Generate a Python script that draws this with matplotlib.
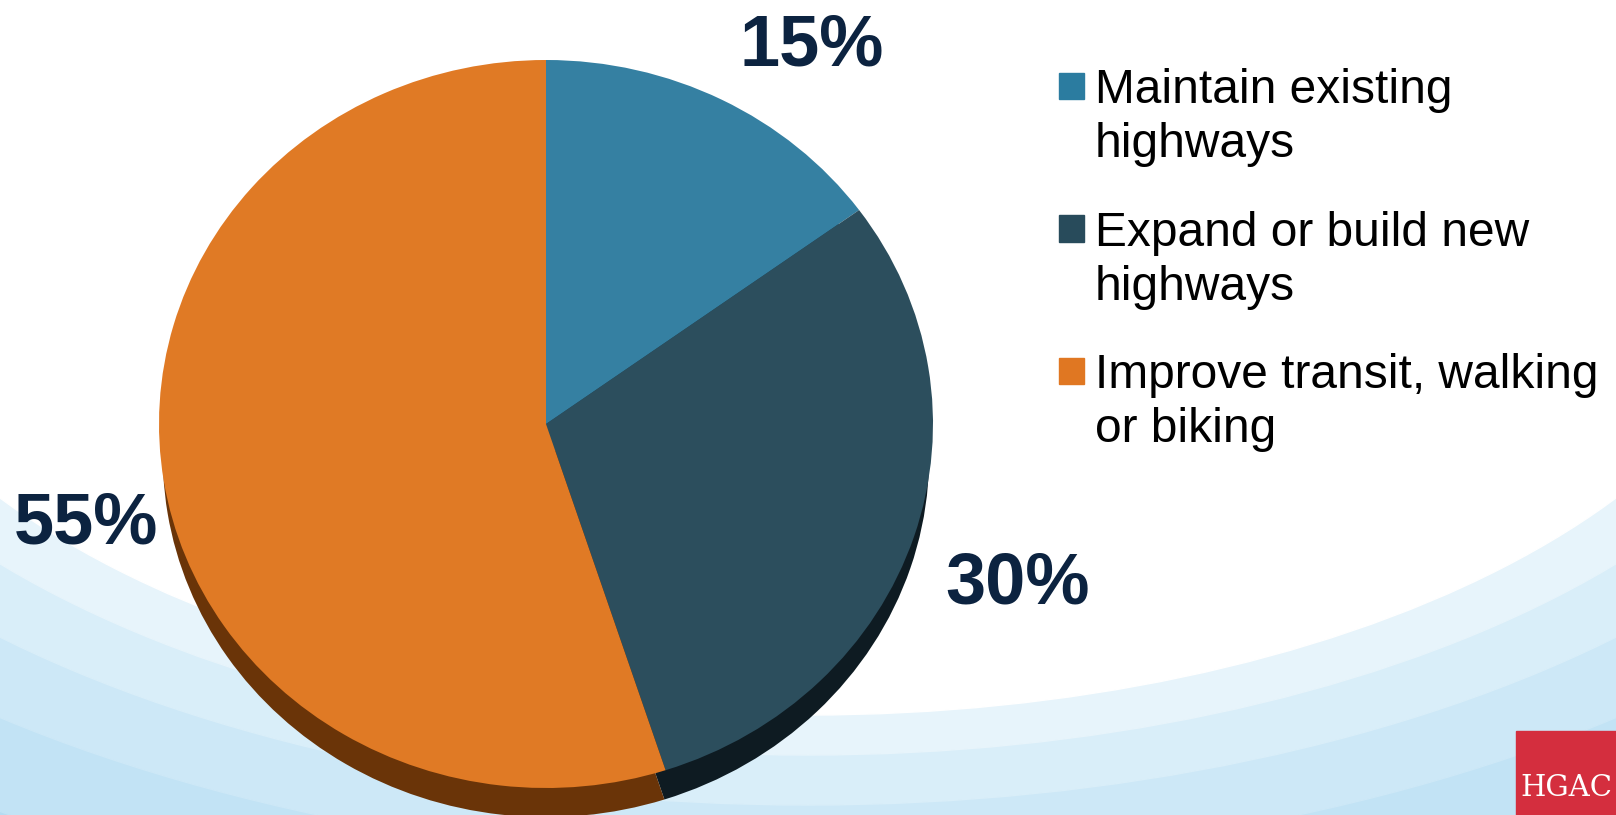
import matplotlib.pyplot as plt
from matplotlib.patches import Ellipse, Rectangle

# chart data
categories = ["Maintain existing\nhighways",
              "Expand or build new\nhighways",
              "Improve transit, walking\nor biking"]
shares = [15, 30, 55]
top_colors = ["#3580a2", "#2c4e5d", "#e07a25"]
rim_colors = ["#1d4a5e", "#0e1b22", "#6a3408"]
legend_colors = ["#2b7ca0", "#284b5b", "#e07722"]

W, H = 1616, 815


def fx(px):
    return px / W


def fy(py):
    return 1 - py / H


def main():
    plt.rcParams['font.family'] = ['Liberation Sans', 'DejaVu Sans']
    fig = plt.figure(figsize=(W / 100, H / 100), dpi=100)
    fig.patch.set_facecolor("white")

    # background swooshes
    bg = fig.add_axes([0, 0, 1, 1], zorder=-1)
    bg.set_xlim(0, W)
    bg.set_ylim(H, 0)
    bg.axis("off")
    bg.add_patch(Rectangle((0, 0), W, H, color="#b5dcf2"))
    for scale, col in [(1.45, "#c2e3f5"), (1.3, "#cde8f7"), (1.18, "#d9eef9"),
                       (1.08, "#e7f4fb"), (1.0, "white")]:
        bg.add_patch(Ellipse((808, 215), 1960 * scale, 1000 * scale, color=col))

    # pie: centre (546, 424) px, radii 387 x 364 px, dark rim underneath
    ylo = -1.12
    top_px, ry = 60, 364
    bottom_px = top_px + (1 - ylo) * ry
    ax = fig.add_axes([fx(159), fy(bottom_px), 774 / W, (bottom_px - top_px) / H])
    ax.pie(shares, colors=rim_colors, startangle=90, counterclock=False,
           center=(0, -0.09), radius=0.99, wedgeprops=dict(linewidth=0))
    ax.pie(shares, colors=top_colors, startangle=90, counterclock=False,
           center=(0, 0), radius=1, wedgeprops=dict(linewidth=0))
    ax.set_aspect("auto")
    ax.set_xlim(-1, 1)
    ax.set_ylim(ylo, 1)
    ax.axis("off")

    # percentage labels
    label_pos = [(812, 65), (1018, 604), (86, 543)]
    for v, (x, y) in zip(shares, label_pos):
        fig.text(fx(x), fy(y), f"{v}%", ha="center", va="baseline",
                 fontsize=52, fontweight="bold", color="#0c2340")

    # legend
    first_base = 103
    step = 142.5
    for i, (lab, col) in enumerate(zip(categories, legend_colors)):
        base = first_base + i * step
        fig.add_artist(Rectangle((fx(1059), fy(base - 4)), 25 / W, 26 / H,
                                 transform=fig.transFigure, color=col))
        for j, line in enumerate(lab.split("\n")):
            fig.text(fx(1095), fy(base + j * 54), line, ha="left",
                     va="baseline", fontsize=34.5, color="#000000")

    # logo
    fig.add_artist(Rectangle((fx(1516), 0), 100 / W, fy(731),
                             transform=fig.transFigure, color="#d42e3e"))
    fig.text(fx(1520), fy(796), "HGAC", ha="left", va="baseline",
             fontsize=21, color="white", family="DejaVu Serif",
             fontweight="light")

    fig.savefig("out.png", dpi=100)


if __name__ == "__main__":
    main()
